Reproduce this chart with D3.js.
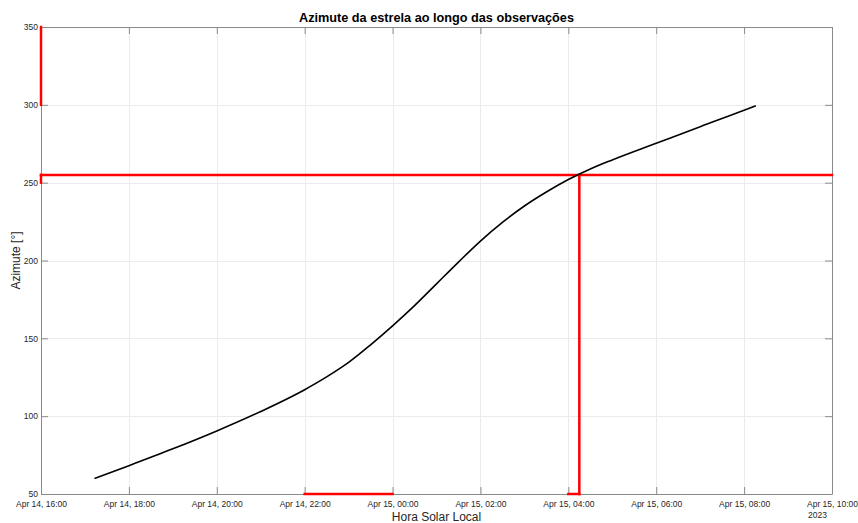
<!DOCTYPE html>
<html>
<head>
  <meta charset="utf-8">
  <script src="https://d3js.org/d3.v7.min.js"></script>
  <style>
    body { margin: 0; background: white; }
    svg { font-family: "Liberation Sans", Arial, sans-serif; }
    .tick text { fill: #262626; font-size: 8.5px; }
  </style>
</head>
<body>
  <div id="chart"></div>
  <script>
    // star azimuth readings (local solar time)
    var times = [
      "2023-04-14 17:13", "2023-04-14 18:00", "2023-04-14 19:00", "2023-04-14 20:00",
      "2023-04-14 21:00", "2023-04-14 22:00", "2023-04-14 22:30", "2023-04-14 23:00",
      "2023-04-14 23:30", "2023-04-15 00:00", "2023-04-15 00:30", "2023-04-15 01:00",
      "2023-04-15 01:30", "2023-04-15 02:00", "2023-04-15 02:30", "2023-04-15 03:00",
      "2023-04-15 03:30", "2023-04-15 04:00", "2023-04-15 04:30", "2023-04-15 05:00",
      "2023-04-15 06:00", "2023-04-15 07:00", "2023-04-15 08:00", "2023-04-15 08:16"
    ];
    var azimuth = [
      60, 68.2, 79, 90.5,
      103, 117, 125.2, 134.5,
      145.8, 158, 171, 185,
      199, 212.5, 224.5, 235,
      244, 252, 258.8, 264.6,
      275.3, 286, 296.5, 299.4
    ];

    // red marker lines: start time, end time, start az, end az
    var markStart = ["2023-04-14 16:00", "2023-04-15 04:15", "2023-04-14 16:00", "2023-04-14 16:00", "2023-04-14 22:00", "2023-04-15 04:00"];
    var markEnd   = ["2023-04-15 10:00", "2023-04-15 04:15", "2023-04-14 16:00", "2023-04-14 16:00", "2023-04-15 00:00", "2023-04-15 04:15"];
    var markAz0 = [255, 255, 300, 250, 50, 50];
    var markAz1 = [255, 50, 350, 255, 50, 50];

    var xTicks = ["2023-04-14 16:00", "2023-04-14 18:00", "2023-04-14 20:00", "2023-04-14 22:00",
      "2023-04-15 00:00", "2023-04-15 02:00", "2023-04-15 04:00", "2023-04-15 06:00",
      "2023-04-15 08:00", "2023-04-15 10:00"];
    var yTicks = [50, 100, 150, 200, 250, 300, 350];

    var parse = d3.timeParse("%Y-%m-%d %H:%M");
    var fmt = d3.timeFormat("%b %d, %H:%M");

    var width = 858, height = 523;
    var pLeft = 41, pRight = 832, pTop = 27, pBottom = 494;

    var svg = d3.select("#chart").append("svg")
      .attr("width", width).attr("height", height);

    var x = d3.scaleTime()
      .domain([parse(xTicks[0]), parse(xTicks[xTicks.length - 1])])
      .range([pLeft, pRight]);
    var y = d3.scaleLinear().domain([50, 350]).range([pBottom, pTop]);

    var xt = xTicks.map(parse);

    // grid
    svg.append("g").selectAll("line").data(xt).enter().append("line")
      .attr("x1", d => Math.round(x(d)) + 0.5).attr("x2", d => Math.round(x(d)) + 0.5)
      .attr("y1", pTop).attr("y2", pBottom)
      .attr("stroke", "#ebebeb");
    svg.append("g").selectAll("line").data(yTicks).enter().append("line")
      .attr("y1", d => Math.round(y(d)) + 0.5).attr("y2", d => Math.round(y(d)) + 0.5)
      .attr("x1", pLeft).attr("x2", pRight)
      .attr("stroke", "#ebebeb");

    // axes
    var gx = svg.append("g").attr("transform", "translate(0," + pBottom + ")")
      .call(d3.axisBottom(x).tickValues(xt).tickFormat(fmt).tickSizeInner(-7).tickSizeOuter(0).tickPadding(5));
    var gxTop = svg.append("g").attr("transform", "translate(0," + pTop + ")")
      .call(d3.axisTop(x).tickValues(xt).tickFormat("").tickSizeInner(-7).tickSizeOuter(0));
    var gy = svg.append("g").attr("transform", "translate(" + pLeft + ",0)")
      .call(d3.axisLeft(y).tickValues(yTicks).tickSizeInner(-7).tickSizeOuter(0).tickPadding(3));
    var gyR = svg.append("g").attr("transform", "translate(" + pRight + ",0)")
      .call(d3.axisRight(y).tickValues(yTicks).tickFormat("").tickSizeInner(-7).tickSizeOuter(0));

    [gx, gxTop, gy, gyR].forEach(function (g) {
      g.selectAll(".domain, .tick line").attr("stroke", "#8a8a8a");
    });
    gx.selectAll(".tick text").attr("dy", "0.9em");

    svg.append("text")
      .attr("x", x(xt[xt.length - 1]) - 24).attr("y", 518)
      .attr("font-size", 8.5).attr("fill", "#262626")
      .text("2023");

    // red marker lines
    svg.append("g").selectAll("line").data(markAz0).enter().append("line")
      .attr("x1", (d, i) => x(parse(markStart[i])))
      .attr("x2", (d, i) => x(parse(markEnd[i])))
      .attr("y1", d => y(d))
      .attr("y2", (d, i) => y(markAz1[i]))
      .attr("stroke", "#ff0000")
      .attr("stroke-width", 2.5)
      .attr("stroke-linecap", "square");

    // azimuth curve
    var pts = times.map((t, i) => ({ t: parse(t), a: azimuth[i] }));
    svg.append("path")
      .datum(pts)
      .attr("fill", "none")
      .attr("stroke", "#000")
      .attr("stroke-width", 1.6)
      .attr("d", d3.line().x(d => x(d.t)).y(d => y(d.a)).curve(d3.curveMonotoneX));

    // titles
    svg.append("text")
      .attr("x", (pLeft + pRight) / 2).attr("y", 22)
      .attr("text-anchor", "middle")
      .attr("font-size", 12.7).attr("font-weight", "bold").attr("fill", "#000")
      .text("Azimute da estrela ao longo das observações");

    svg.append("text")
      .attr("x", (pLeft + pRight) / 2).attr("y", 521)
      .attr("text-anchor", "middle")
      .attr("font-size", 12).attr("fill", "#262626")
      .text("Hora Solar Local");

    svg.append("text")
      .attr("transform", "translate(20," + ((pTop + pBottom) / 2) + ") rotate(-90)")
      .attr("text-anchor", "middle")
      .attr("font-size", 12).attr("fill", "#262626")
      .text("Azimute [°]");
  </script>
</body>
</html>
